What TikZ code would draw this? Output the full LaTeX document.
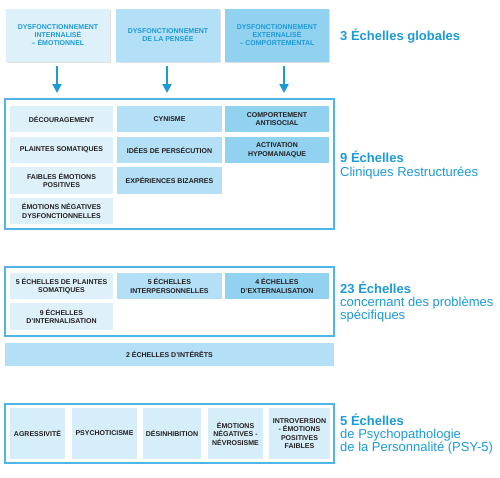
\documentclass[tikz,border=0pt]{standalone}
\usepackage{fontspec}
\setmainfont{Liberation Sans}
\usetikzlibrary{arrows.meta,shadows}
\definecolor{lblue}{HTML}{1B9AD7}
\definecolor{frameblue}{HTML}{4DB6E6}
\definecolor{cA}{HTML}{DEF1FB}
\definecolor{cB}{HTML}{B3E0F6}
\definecolor{cC}{HTML}{92D2F1}
\definecolor{cD}{HTML}{D6EEFA}
\definecolor{txt}{HTML}{231F20}
\tikzset{
  topbox/.style={draw=none, minimum width=104pt, minimum height=53pt, inner sep=1pt,
    align=center, text=lblue, font=\bfseries\fontsize{7}{8}\selectfont,
    drop shadow={shadow xshift=1pt, shadow yshift=-1.2pt, opacity=0.25}},
  cell/.style={draw=none, inner sep=1pt, align=center, text=txt,
    font=\bfseries\fontsize{7}{8.5}\selectfont},
  frame/.style={draw=frameblue, line width=1.2pt, fill=white, inner sep=0pt},
  garrow/.style={draw=lblue, line width=2.2pt, -{Triangle[width=9pt,length=9pt]}},
  lhead/.style={anchor=base west, inner sep=0pt, text=lblue, font=\bfseries\fontsize{13}{14}\selectfont},
  lsub/.style={anchor=base west, inner sep=0pt, text=lblue, font=\fontsize{13}{14}\selectfont}
}
\begin{document}
\begin{tikzpicture}[x=1pt,y=-1pt]
\useasboundingbox (0,0) rectangle (500,477);

% top boxes
\node[topbox, fill=cA] (g1) at (58,35.5) {DYSFONCTIONNEMENT\\INTERNALISÉ\\– ÉMOTIONNEL};
\node[topbox, fill=cB] (g2) at (168,35.5) {DYSFONCTIONNEMENT\\DE LA PENSÉE};
\node[topbox, fill=cC] (g3) at (277,35.5) {DYSFONCTIONNEMENT\\EXTERNALISÉ\\– COMPORTEMENTAL};
\node[lhead] (l1) at (340,40.5) {3 Échelles globales};

% section 2 frame
\node[frame, minimum width=329pt, minimum height=130pt] (f2) at (169.5,164) {};
\coordinate (a1s) at (57,66);  \coordinate (a1e) at (57,93);
\coordinate (a2s) at (167,66); \coordinate (a2e) at (167,93);
\coordinate (a3s) at (284,66); \coordinate (a3e) at (284,93);
\draw[garrow] (a1s) -- (a1e);
\draw[garrow] (a2s) -- (a2e);
\draw[garrow] (a3s) -- (a3e);

\node[cell, fill=cA, minimum width=103pt, minimum height=26pt] (r11) at (61.5,119) {DÉCOURAGEMENT};
\node[cell, fill=cB, minimum width=105pt, minimum height=26pt] (r12) at (169.5,119) {CYNISME};
\node[cell, fill=cC, minimum width=104pt, minimum height=26pt] (r13) at (277,119) {COMPORTEMENT\\ANTISOCIAL};
\node[cell, fill=cA, minimum width=103pt, minimum height=26pt] (r21) at (61.5,150) {PLAINTES SOMATIQUES};
\node[cell, fill=cB, minimum width=105pt, minimum height=26pt] (r22) at (169.5,150) {IDÉES DE PERSÉCUTION};
\node[cell, fill=cC, minimum width=104pt, minimum height=26pt] (r23) at (277,150) {ACTIVATION\\HYPOMANIAQUE};
\node[cell, fill=cA, minimum width=103pt, minimum height=27pt] (r31) at (61.5,180.5) {FAIBLES ÉMOTIONS\\POSITIVES};
\node[cell, fill=cB, minimum width=105pt, minimum height=27pt] (r32) at (169.5,180.5) {EXPÉRIENCES BIZARRES};
\node[cell, fill=cA, minimum width=103pt, minimum height=26pt] (r41) at (61.5,211) {ÉMOTIONS NÉGATIVES\\DYSFONCTIONNELLES};
\node[lhead] (l2a) at (340,162.5) {9 Échelles};
\node[lsub] (l2b) at (340,176) {Cliniques Restructurées};

% section 3
\node[frame, minimum width=329pt, minimum height=69pt] (f3) at (169.5,301.5) {};
\node[cell, fill=cA, minimum width=103pt, minimum height=26pt] (s11) at (61.5,286) {5 ÉCHELLES DE PLAINTES\\SOMATIQUES};
\node[cell, fill=cB, minimum width=105pt, minimum height=26pt] (s12) at (169.5,286) {5 ÉCHELLES\\INTERPERSONNELLES};
\node[cell, fill=cC, minimum width=104pt, minimum height=26pt] (s13) at (277,286) {4 ÉCHELLES\\D'EXTERNALISATION};
\node[cell, fill=cA, minimum width=103pt, minimum height=27pt] (s21) at (61.5,316.5) {9 ÉCHELLES\\D'INTERNALISATION};
\node[cell, fill=cB, minimum width=329pt, minimum height=23pt] (int) at (169.5,354.5) {2 ÉCHELLES D'INTÉRÊTS};
\node[lhead] (l3a) at (340,293.3) {23 Échelles};
\node[lsub] (l3b) at (340,306.6) {concernant des problèmes};
\node[lsub] (l3c) at (340,319.9) {spécifiques};

% section 4
\node[frame, minimum width=329pt, minimum height=59pt] (f4) at (169.5,433.5) {};
\node[cell, fill=cD, minimum width=55pt, minimum height=51pt] (p1) at (37.5,433.5) {AGRESSIVITÉ};
\node[cell, fill=cD, minimum width=65pt, minimum height=51pt] (p2) at (104.5,433.5) {PSYCHOTICISME};
\node[cell, fill=cD, minimum width=58pt, minimum height=51pt] (p3) at (172,433.5) {DÉSINHIBITION};
\node[cell, fill=cD, minimum width=55pt, minimum height=51pt] (p4) at (235.5,433.5) {ÉMOTIONS\\NÉGATIVES -\\NÉVROSISME};
\node[cell, fill=cD, minimum width=61pt, minimum height=51pt] (p5) at (299.5,433.5) {INTROVERSION\\- ÉMOTIONS\\POSITIVES\\FAIBLES};
\node[lhead] (l4a) at (340,425) {5 Échelles};
\node[lsub] (l4b) at (340,438.3) {de Psychopathologie};
\node[lsub] (l4c) at (340,451.6) {de la Personnalité (PSY-5)};
\end{tikzpicture}
\end{document}
